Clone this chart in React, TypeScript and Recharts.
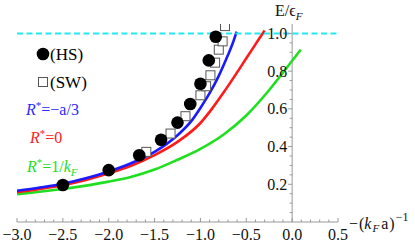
import React from 'react';
import { ComposedChart, Line, Scatter, XAxis, YAxis, ReferenceLine, Customized } from 'recharts';

// ---- data ----
const blueX = [-3.0, -2.75, -2.5, -2.25, -2.0, -1.75, -1.5, -1.25, -1.1, -1.0, -0.9, -0.8, -0.7, -0.65, -0.605];
const blueY = [0.166, 0.183, 0.203, 0.232, 0.268, 0.313, 0.372, 0.46, 0.535, 0.605, 0.683, 0.775, 0.885, 0.945, 1.01];

const redX = [-3.0, -2.75, -2.5, -2.25, -2.0, -1.75, -1.5, -1.25, -1.0, -0.875, -0.75, -0.625, -0.5, -0.4, -0.3];
const redY = [0.158, 0.175, 0.195, 0.223, 0.258, 0.3, 0.355, 0.425, 0.525, 0.6, 0.685, 0.775, 0.868, 0.942, 1.016];

const greenX = [-3.0, -2.5, -2.0, -1.75, -1.5, -1.25, -1.0, -0.75, -0.5, -0.25, 0.0, 0.094];
const greenY = [0.148, 0.175, 0.214, 0.24, 0.278, 0.33, 0.388, 0.463, 0.565, 0.7, 0.855, 0.914];

const hsX = [-2.5, -2.0, -1.667, -1.429, -1.25, -1.111, -1.0, -0.909, -0.833];
const hsY = [0.196, 0.275, 0.354, 0.436, 0.527, 0.626, 0.733, 0.857, 0.982];

const swX = [-1.59, -1.326, -1.163, -1.0, -0.938, -0.891, -0.84, -0.8, -0.758, -0.732];
const swY = [0.372, 0.469, 0.561, 0.672, 0.72, 0.778, 0.845, 0.914, 0.958, 1.039];

const xMajorTicks = [-3.0, -2.5, -2.0, -1.5, -1.0, -0.5, 0.0, 0.5];
const xTickLabels = ['\u22123.0', '\u22122.5', '\u22122.0', '\u22121.5', '\u22121.0', '\u22120.5', '0.0', '0.5'];
const yMajorTicks = [0.2, 0.4, 0.6, 0.8, 1.0];
const yTickLabels = ['0.2', '0.4', '0.6', '0.8', '1.0'];

const toPts = (xs: number[], ys: number[]) => xs.map((x, i) => ({ x, y: ys[i] }));
const blueData = toPts(blueX, blueY);
const redData = toPts(redX, redY);
const greenData = toPts(greenX, greenY);
const hsData = toPts(hsX, hsY);
const swData = toPts(swX, swY);

// ---- layout ----
const W = 415;
const H = 245;
const X_MIN = -3;
const X_MAX = 0.5;
const Y_MAX = 1.05;
const Y_AXIS_W = 1;
const M = { top: 24, right: 77, bottom: 0, left: 16 };
const PLOT_W = W - M.left - Y_AXIS_W - M.right;
const Y_AXIS_SHIFT = (PLOT_W * (0 - X_MIN)) / (X_MAX - X_MIN);

const xTicks = Array.from({ length: 36 }, (_, i) => (i - 30) / 10);
const yTicks = Array.from({ length: 20 }, (_, i) => ((i + 1) * 5) / 100);

const FONT = "'Liberation Serif', 'Times New Roman', serif";
const AXIS_COLOR = '#999';

const XTick = (props: any) => {
  const { x, y, payload } = props;
  const v = payload.value;
  const idx = xMajorTicks.findIndex((m) => Math.abs(m - v) < 1e-6);
  const major = idx >= 0;
  return (
    <g>
      <line x1={x} x2={x} y1={y} y2={y - (major ? 4 : 2.5)} stroke={AXIS_COLOR} strokeWidth={1} />
      {major && (
        <text x={x} y={y + 18} textAnchor="middle" fontFamily={FONT} fontSize={16} fill="#111">
          {xTickLabels[idx]}
        </text>
      )}
    </g>
  );
};

const YTick = (props: any) => {
  const { x, y, payload } = props;
  const v = payload.value;
  const X = x + Y_AXIS_SHIFT;
  const idx = yMajorTicks.findIndex((m) => Math.abs(m - v) < 1e-6);
  const major = idx >= 0;
  return (
    <g>
      <line x1={X - (major ? 4 : 2.5)} x2={X} y1={y} y2={y} stroke={AXIS_COLOR} strokeWidth={1} />
      {major && (
        <text x={X - 5} y={y + 5.5} textAnchor="end" fontFamily={FONT} fontSize={16} fill="#111">
          {yTickLabels[idx]}
        </text>
      )}
    </g>
  );
};

const CircleShape = (props: any) => <circle cx={props.cx} cy={props.cy} r={6.3} fill="#000" />;
const SquareShape = (props: any) => (
  <rect x={props.cx - 4.5} y={props.cy - 4.5} width={9} height={9} fill="#fff" stroke="#555" strokeWidth={1} />
);

const Overlay = () => (
  <g fontFamily={FONT}>
    <circle cx={43} cy={54} r={6.3} fill="#000" />
    <text x={50} y={60} fontSize={17} fill="#000">(HS)</text>
    <rect x={38.5} y={77.5} width={9} height={9} fill="#fff" stroke="#555" strokeWidth={1} />
    <text x={50} y={88} fontSize={17} fill="#000">(SW)</text>
    <text x={26} y={115} fontSize={16} fill="#2a2aff">
      <tspan fontStyle="italic">R</tspan>
      <tspan fontSize={11} dy={-6}>*</tspan>
      <tspan dy={6}>{'=\u2212a/3'}</tspan>
    </text>
    <text x={30} y={143} fontSize={16} fill="#ff2020">
      <tspan fontStyle="italic">R</tspan>
      <tspan fontSize={11} dy={-6}>*</tspan>
      <tspan dy={6}>=0</tspan>
    </text>
    <text x={27} y={172} fontSize={16} fill="#22dd22">
      <tspan fontStyle="italic">R</tspan>
      <tspan fontSize={11} dy={-6}>*</tspan>
      <tspan dy={6}>=1/</tspan>
      <tspan fontStyle="italic">k</tspan>
      <tspan fontSize={11} fontStyle="italic" dy={4}>F</tspan>
    </text>
    <text x={275} y={16} fontSize={16} fill="#111">
      <tspan>E/ϵ</tspan>
      <tspan fontSize={11} fontStyle="italic" dy={4}>F</tspan>
    </text>
    <text x={349} y={229} fontSize={16} fill="#111">
      <tspan>{'\u2212'}</tspan>
      <tspan dx={1}>(</tspan>
      <tspan fontStyle="italic">k</tspan>
      <tspan fontSize={11} fontStyle="italic" dy={3} dx={1}>F</tspan>
      <tspan dy={-3} dx={2}>a</tspan>
      <tspan dx={1}>)</tspan>
      <tspan fontSize={12} dy={-8} dx={1}>{'\u22121'}</tspan>
    </text>
  </g>
);

export default function App() {
  return (
    <div style={{ position: 'absolute', left: 0, top: 0 }}>
      <ComposedChart width={W} height={H} margin={M}>
        <XAxis
          type="number"
          dataKey="x"
          domain={[X_MIN, X_MAX]}
          allowDataOverflow
          ticks={xTicks}
          interval={0}
          height={23}
          tickSize={0}
          tickMargin={0}
          tickLine={false}
          axisLine={{ stroke: AXIS_COLOR }}
          tick={XTick}
        />
        <YAxis
          type="number"
          dataKey="y"
          domain={[0, Y_MAX]}
          allowDataOverflow
          ticks={yTicks}
          interval={0}
          width={Y_AXIS_W}
          tickSize={0}
          tickMargin={0}
          tickLine={false}
          axisLine={false}
          tick={YTick}
        />
        <ReferenceLine x={0} stroke={AXIS_COLOR} />
        <Line data={greenData} dataKey="y" type="monotone" stroke="#1ee01e" strokeWidth={2.6} dot={false} isAnimationActive={false} />
        <Line data={redData} dataKey="y" type="monotone" stroke="#ff1a1a" strokeWidth={2.6} dot={false} isAnimationActive={false} />
        <Line data={blueData} dataKey="y" type="monotone" stroke="#1a1aff" strokeWidth={2.6} dot={false} isAnimationActive={false} />
        <ReferenceLine y={1} stroke="#22e8f0" strokeWidth={2} strokeDasharray="6 3.5" />
        <Scatter data={swData} dataKey="y" shape={SquareShape} isAnimationActive={false} />
        <Scatter data={hsData} dataKey="y" shape={CircleShape} isAnimationActive={false} />
        <Customized component={Overlay} />
      </ComposedChart>
    </div>
  );
}
